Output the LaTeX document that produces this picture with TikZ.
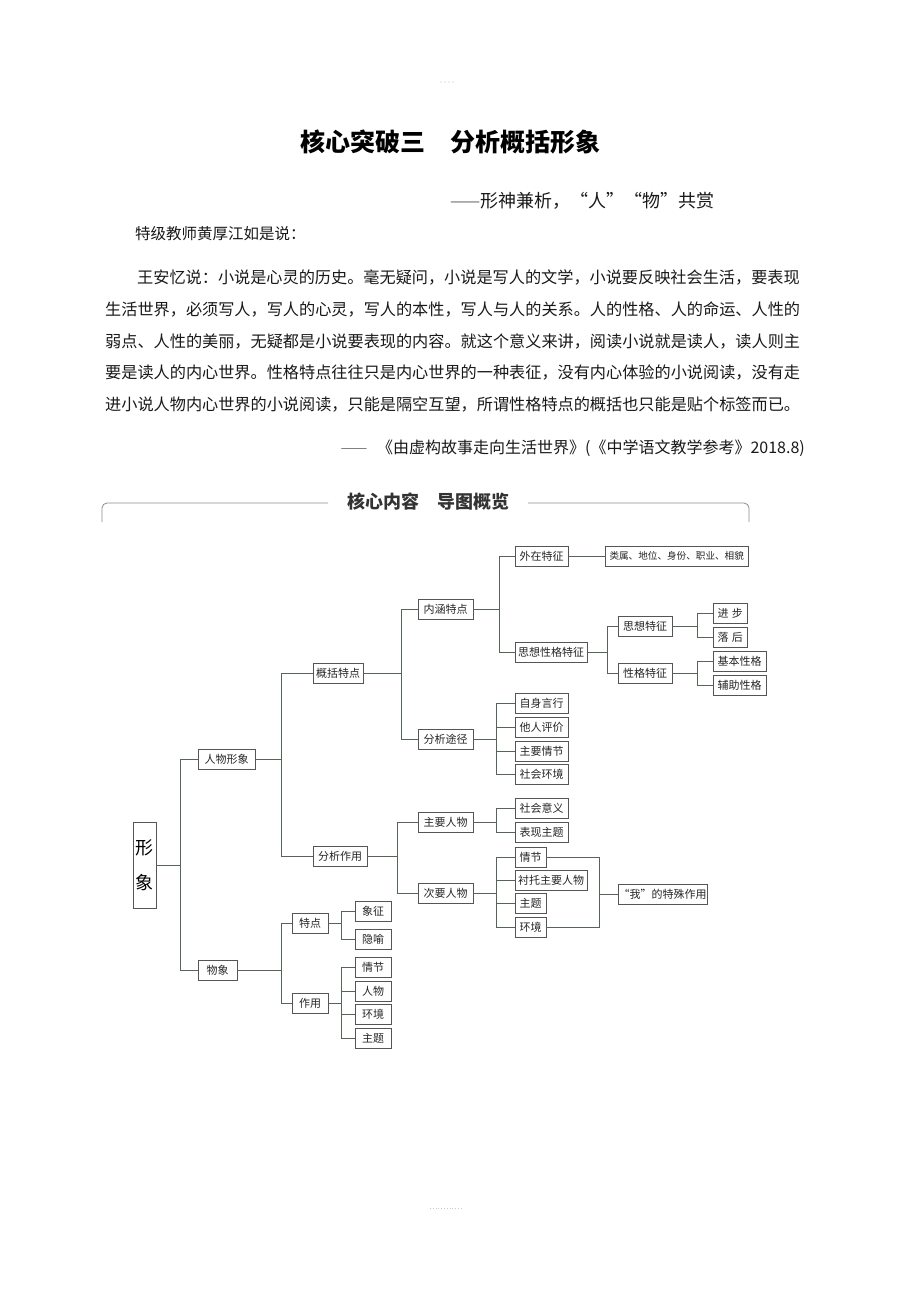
\documentclass[tikz,border=0pt]{standalone}
\usepackage{fontspec}
\newfontfamily\cjk{Noto Sans CJK SC}
\definecolor{linec}{RGB}{88,100,88}
\definecolor{boxc}{RGB}{85,85,85}
\definecolor{framec}{RGB}{140,140,140}

\begin{document}
\begin{tikzpicture}[x=1pt,y=-1pt,
    box/.style={draw=boxc,fill=white,anchor=west,minimum height=20,inner sep=0pt,
      font=\cjk\fontsize{11}{13}\selectfont,text=black!85},
    conn/.style={draw=linec,line width=0.8pt},
    txt/.style={anchor=west,inner sep=0pt,text=black!90}]
    \fill[white](0,0)rectangle(920,1302);
    \useasboundingbox(0,0)rectangle(920,1302);

    % page marks
    \foreach \x in {441,445,449,453}
        \fill[black!25](\x,82)circle(0.6);
    \draw[green!30!black!25,dotted,line width=0.8pt](430,1208)--(463,1208);

    % heading and quotation
    \node[font=\cjk\bfseries\fontsize{25}{25}\selectfont,inner sep=0pt](title)at(450,142){核心突破三\hspace{1em}分析概括形象};
    \node[txt,font=\cjk\fontsize{18}{18}\selectfont](subtitle)at(450,201){{\color{black!55}——}形神兼析，“人”“物”共赏};
    \node[txt,font=\cjk\fontsize{15.5}{15.5}\selectfont](teacher)at(135,234){特级教师黄厚江如是说：};
    \node[txt,font=\cjk\fontsize{16.16}{16}\selectfont](line1)at(137,277){王安忆说：小说是心灵的历史。毫无疑问，小说是写人的文学，小说要反映社会生活，要表现};
    \node[txt,font=\cjk\fontsize{16.16}{16}\selectfont](line2)at(105,309){生活世界，必须写人，写人的心灵，写人的本性，写人与人的关系。人的性格、人的命运、人性的};
    \node[txt,font=\cjk\fontsize{16.16}{16}\selectfont](line3)at(105,341){弱点、人性的美丽，无疑都是小说要表现的内容。就这个意义来讲，阅读小说就是读人，读人则主};
    \node[txt,font=\cjk\fontsize{16.16}{16}\selectfont](line4)at(105,373){要是读人的内心世界。性格特点往往只是内心世界的一种表征，没有内心体验的小说阅读，没有走};
    \node[txt,font=\cjk\fontsize{16.16}{16}\selectfont](line5)at(105,405){进小说人物内心世界的小说阅读，只能是隔空互望，所谓性格特点的概括也只能是贴个标签而已。};
    \node[txt,anchor=east,font=\cjk\fontsize{16}{16}\selectfont](source)at(805,448){{\color{black!50}——}\hspace{0.6em}《由虚构故事走向生活世界》(《中学语文教学参考》2018.8)};

    % section frame
    \node[font=\cjk\bfseries\fontsize{18}{18}\selectfont,text=black!80,inner sep=0pt](section)at(428,502){核心内容\hspace{1em}导图概览};
    \draw[framec,line width=0.8pt,rounded corners=5](102,522)--(102,503)--(328,503);
    \draw[framec,line width=0.8pt,rounded corners=5](528,503)--(749,503)--(749,522);

    % mind map
    \node[draw=boxc,fill=white,minimum width=23,minimum height=86,inner sep=0pt,align=center,
        font=\cjk\fontsize{18}{35}\selectfont](xx)at(144.5,865){形\\象};
    \node[box,minimum width=57](rw)at(198,759){人物形象};
    \node[box,minimum width=39](wx)at(198,970){物象};
    \node[box,minimum width=50](gk)at(313,673){概括特点};
    \node[box,minimum width=54](fz)at(313,856){分析作用};
    \node[box,minimum width=55](nh)at(418,609){内涵特点};
    \node[box,minimum width=55](tj)at(418,739){分析途径};
    \node[box,minimum width=55](zy)at(418,822){主要人物};
    \node[box,minimum width=55](cy)at(418,893){次要人物};
    \node[box,minimum width=53](wz)at(515,556){外在特征};
    \node[box,minimum width=143,font=\cjk\fontsize{9.6}{12}\selectfont](lb)at(605,556){类属、地位、身份、职业、相貌};
    \node[box,minimum width=72](sx)at(515,652){思想性格特征};
    \node[box,minimum width=54](sxtz)at(618,626){思想特征};
    \node[box,minimum width=54](xgtz)at(618,673){性格特征};
    \node[box,minimum width=34](jb)at(713,613){进\hspace{0.3em}步};
    \node[box,minimum width=34](lh)at(713,637){落\hspace{0.3em}后};
    \node[box,minimum width=53](jbxg)at(713,661){基本性格};
    \node[box,minimum width=53](fzxg)at(713,685){辅助性格};
    \node[box,minimum width=53](zs)at(515,703){自身言行};
    \node[box,minimum width=53](tr)at(515,727){他人评价};
    \node[box,minimum width=53](zyqj)at(515,751){主要情节};
    \node[box,minimum width=53](shhj)at(515,774){社会环境};
    \node[box,minimum width=53](shyy)at(515,808){社会意义};
    \node[box,minimum width=53](bx)at(515,832){表现主题};
    \node[box,minimum width=31](qj)at(515,857){情节};
    \node[box,minimum width=72](ct)at(515,880){衬托主要人物};
    \node[box,minimum width=31](zt)at(515,903){主题};
    \node[box,minimum width=31](hj)at(515,927){环境};
    \node[box,minimum width=89](wo)at(618,894){“我”的特殊作用};
    \node[box,minimum width=36](td)at(292,923){特点};
    \node[box,minimum width=36](zyong)at(292,1003){作用};
    \node[box,minimum width=36](xz)at(355,911){象征};
    \node[box,minimum width=36](yy)at(355,939){隐喻};
    \node[box,minimum width=36](qj2)at(355,967){情节};
    \node[box,minimum width=36](rw2)at(355,991){人物};
    \node[box,minimum width=36](hj2)at(355,1014){环境};
    \node[box,minimum width=36](zt2)at(355,1038){主题};
    \coordinate(brk)at(599,894);

    % connectors
    \foreach \c in {rw,wx} \draw[conn](xx.east)--++(24,0)|-(\c.west);
    \foreach \c in {gk,fz} \draw[conn](rw.east)--++(26,0)|-(\c.west);
    \foreach \c in {td,zyong} \draw[conn](wx.east)--++(44,0)|-(\c.west);
    \foreach \c in {nh,tj} \draw[conn](gk.east)--++(38,0)|-(\c.west);
    \foreach \c in {zy,cy} \draw[conn](fz.east)--++(30,0)|-(\c.west);
    \foreach \c in {wz,sx} \draw[conn](nh.east)--++(26,0)|-(\c.west);
    \draw[conn](wz.east)--(lb.west);
    \foreach \c in {sxtz,xgtz} \draw[conn](sx.east)--++(20,0)|-(\c.west);
    \foreach \c in {jb,lh} \draw[conn](sxtz.east)--++(25,0)|-(\c.west);
    \foreach \c in {jbxg,fzxg} \draw[conn](xgtz.east)--++(25,0)|-(\c.west);
    \foreach \c in {zs,tr,zyqj,shhj} \draw[conn](tj.east)--++(23,0)|-(\c.west);
    \foreach \c in {shyy,bx} \draw[conn](zy.east)--++(23,0)|-(\c.west);
    \foreach \c in {qj,ct,zt,hj} \draw[conn](cy.east)--++(23,0)|-(\c.west);
    \foreach \c in {xz,yy} \draw[conn](td.east)--++(13,0)|-(\c.west);
    \foreach \c in {qj2,rw2,hj2,zt2} \draw[conn](zyong.east)--++(13,0)|-(\c.west);
    \draw[conn](qj.east)-|(brk);
    \draw[conn](hj.east)-|(brk);
    \draw[conn](brk)--(wo.west);

\end{tikzpicture}
\end{document}
